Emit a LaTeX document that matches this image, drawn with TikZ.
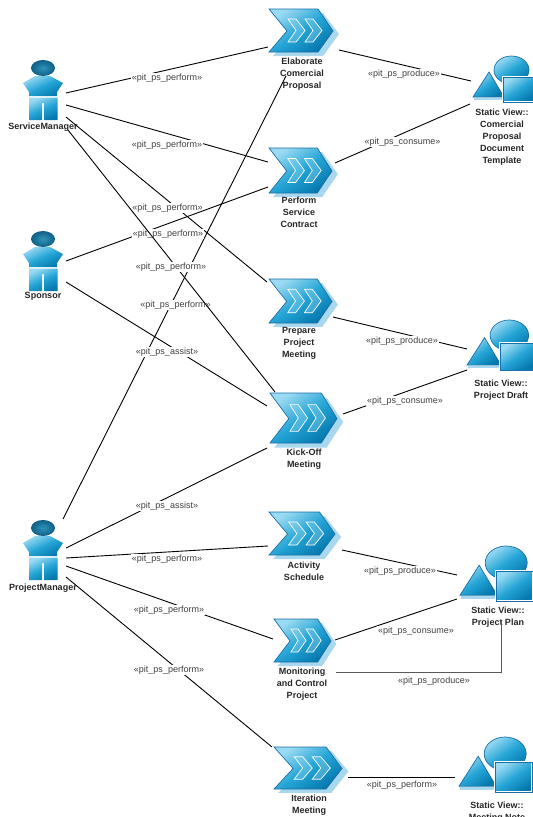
\documentclass[tikz,border=0pt]{standalone}
\usepackage{fontspec}
\setmainfont{Liberation Sans}
\definecolor{lite}{HTML}{9ADAF2}
\definecolor{midb}{HTML}{25A5D6}
\definecolor{deep}{HTML}{0578AE}
\definecolor{edge}{HTML}{1A6FA8}
\definecolor{halo}{HTML}{A9D8EE}
\definecolor{headd}{HTML}{0F5F86}
\definecolor{headl}{HTML}{2F93B8}
\definecolor{lblgray}{HTML}{404040}
\tikzset{
  x=1pt,y=-1pt,
  conn/.style={black,line width=0.9pt},
  connthick/.style={black!65,line width=1.3pt},
  lbl/.style={fill=white,inner sep=0.8pt,text=lblgray,font=\fontsize{9}{10}\selectfont},
  name label/.style={align=center,inner sep=0pt,text=black!85,font=\fontsize{9}{12}\selectfont\bfseries},
  grad/.style={draw=edge,line width=0.7pt,top color=lite,bottom color=deep,middle color=midb,shading angle=35},
  gradnd/.style={top color=lite,bottom color=deep,middle color=midb,shading angle=25},
  innerchev/.style={draw=white,line width=0.7pt,fill=lite,fill opacity=0.35},
}
\newcommand{\procshape}[4]{%
  \begin{scope}[shift={(#1,#2)},xscale=#3/64,yscale=#4/43]
    \fill[halo] (4,4) -- (54,4) -- (70,25) -- (54,47) -- (4,47) -- (24,25) -- cycle;
    \path[grad] (0,0) -- (49,0) -- (64,22) -- (49,43) -- (0,43) -- (18,22) -- cycle;
    \path[innerchev] (19,10) -- (27,10) -- (36,21.5) -- (27,33) -- (19,33) -- (27,21.5) -- cycle;
    \path[innerchev] (36,10) -- (44,10) -- (53,21.5) -- (44,33) -- (36,33) -- (44,21.5) -- cycle;
  \end{scope}}
\newcommand{\actorshape}[2]{%
  \begin{scope}[shift={(#1,#2)}]
    \path[inner color=headl,outer color=headd] (0,0) ellipse [x radius=12,y radius=8];
    \path[gradnd] (-8,8) -- (7,8) -- (20,15) -- (14,24) -- (14,28) -- (-14,28) -- (-14,24) -- (-20,15) -- cycle;
    \path[gradnd] (-14,29.5) -- (14.5,29.5) -- (14.5,52) -- (1,52) -- (1,35) -- (-1,35) -- (-1,52) -- (-14,52) -- cycle;
  \end{scope}}
\newcommand{\viewshape}[3]{%
  \begin{scope}[shift={(#1,#2)},scale=#3]
    \fill[halo] (1,42) -- (31,42) -- (31,44) -- (1,44) -- cycle;
    \path[grad] (38.5,14) ellipse [x radius=17.5,y radius=14];
    \path[grad] (16,16) -- (31,41) -- (0,41) -- cycle;
    \path[grad,draw=white,line width=1.6pt] (30,21) rectangle (61,46);
    \draw[edge,line width=0.7pt] (30,21) rectangle (61,46);
  \end{scope}}
\begin{document}
\begin{tikzpicture}
\useasboundingbox (0,0) rectangle (533,817);
% shapes
\actorshape{43}{68}
\actorshape{43}{239}
\actorshape{43}{528}
\procshape{269}{9}{64}{43}
\procshape{269}{148}{63}{45}
\procshape{269}{279}{63}{44}
\procshape{270}{393}{67}{50}
\procshape{269}{512}{66}{43}
\procshape{274}{619}{57}{43}
\procshape{274}{747}{68}{42}
\viewshape{473}{56}{1}
\viewshape{467}{320}{1.1}
\viewshape{460}{546}{1.2}
\viewshape{459}{737}{1.2}
% names
\node[name label] (service) at (43,127) {ServiceManager};
\node[name label] (sponsor) at (43,296) {Sponsor};
\node[name label] (pm) at (43,588) {ProjectManager};
\node[name label] (elab) at (302,74) {Elaborate\\Comercial\\Proposal};
\node[name label] (perf) at (299,212) {Perform\\Service\\Contract};
\node[name label] (prep) at (299,343) {Prepare\\Project\\Meeting};
\node[name label] (kick) at (304,459.5) {Kick-Off\\Meeting};
\node[name label] (act) at (304,571) {Activity\\Schedule};
\node[name label] (mon) at (302,684) {Monitoring\\and Control\\Project};
\node[name label] (iter) at (309,805.5) {Iteration\\Meeting};
\node[name label] (vcom) at (502,137) {Static View::\\Comercial\\Proposal\\Document\\Template};
\node[name label] (vdraft) at (501,390) {Static View::\\Project Draft};
\node[name label] (vplan) at (498,617.5) {Static View::\\Project Plan};
\node[name label,anchor=north] (vnote) at (497,802) {Static View::\\Meeting Note};
% connector ends
\coordinate (s1) at (66,93);   \coordinate (s2) at (66,105);
\coordinate (s3) at (66,117);  \coordinate (s4) at (68,130);
\coordinate (sp1) at (66,261); \coordinate (sp2) at (66,282);
\coordinate (p1) at (63,519);  \coordinate (p2) at (66,548);
\coordinate (p3) at (66,558);  \coordinate (p4) at (66,566);
\coordinate (p5) at (66,577);
\coordinate (eIn) at (268,47); \coordinate (eBack) at (286,76); \coordinate (eOut) at (339,50);
\coordinate (fIn1) at (268,162); \coordinate (fIn2) at (268,187); \coordinate (fOut) at (335,163);
\coordinate (gIn) at (267,282); \coordinate (gOut) at (333,317);
\coordinate (kIn1) at (275,392); \coordinate (kIn2) at (267,406); \coordinate (kIn3) at (267,448); \coordinate (kOut) at (343,414);
\coordinate (aIn) at (268,546); \coordinate (aOut) at (342,550);
\coordinate (mIn) at (273,639); \coordinate (mOut1) at (335,640); \coordinate (mOut2) at (336,672.7);
\coordinate (iIn) at (272,747); \coordinate (iOut) at (348,777);
\coordinate (vc1) at (471,81); \coordinate (vc2) at (470,104);
\coordinate (vd1) at (467,349); \coordinate (vd2) at (467,370);
\coordinate (vp1) at (457,575); \coordinate (vp2) at (457,599); \coordinate (vp3) at (501.7,620);
\coordinate (vn1) at (455,777);
% connectors with labels
\draw[conn] (p1) -- (eBack);
\node[lbl] (l6) at (175.5,305) {«pit\_ps\_perform»};
\draw[conn] (s1) -- (eIn);
\node[lbl] (l1) at (167,78) {«pit\_ps\_perform»};
\draw[conn] (s2) -- (fIn1);
\node[lbl] (l2) at (167,145) {«pit\_ps\_perform»};
\draw[conn] (s3) -- (gIn);
\node[lbl] (l3) at (167.5,208) {«pit\_ps\_perform»};
\draw[conn] (sp1) -- (fIn2);
\node[lbl] (l4) at (168,234) {«pit\_ps\_perform»};
\draw[conn] (s4) -- (kIn1);
\node[lbl] (l5) at (171,267) {«pit\_ps\_perform»};
\draw[conn] (sp2) -- (kIn2);
\node[lbl] (l7) at (167,352) {«pit\_ps\_assist»};
\draw[conn] (p2) -- (kIn3);
\node[lbl] (l8) at (167,506) {«pit\_ps\_assist»};
\draw[conn] (p3) -- (aIn);
\node[lbl] (l9) at (167,559) {«pit\_ps\_perform»};
\draw[conn] (p4) -- (mIn);
\node[lbl] (l10) at (169,610) {«pit\_ps\_perform»};
\draw[conn] (p5) -- (iIn);
\node[lbl] (l11) at (169,670) {«pit\_ps\_perform»};
\draw[conn] (eOut) -- (vc1);
\node[lbl] (l12) at (404,74) {«pit\_ps\_produce»};
\draw[conn] (fOut) -- (vc2);
\node[lbl] (l13) at (402.5,142) {«pit\_ps\_consume»};
\draw[conn] (gOut) -- (vd1);
\node[lbl] (l14) at (402,341) {«pit\_ps\_produce»};
\draw[conn] (kOut) -- (vd2);
\node[lbl] (l15) at (405,401) {«pit\_ps\_consume»};
\draw[conn] (aOut) -- (vp1);
\node[lbl] (l16) at (400,571) {«pit\_ps\_produce»};
\draw[conn] (mOut1) -- (vp2);
\node[lbl] (l17) at (416,631) {«pit\_ps\_consume»};
\draw[connthick] (mOut2) -| (vp3);
\node[lbl] (l18) at (434,681) {«pit\_ps\_produce»};
\draw[conn] (iOut) -- (vn1);
\node[lbl] (l19) at (402,785) {«pit\_ps\_perform»};
\end{tikzpicture}
\end{document}
